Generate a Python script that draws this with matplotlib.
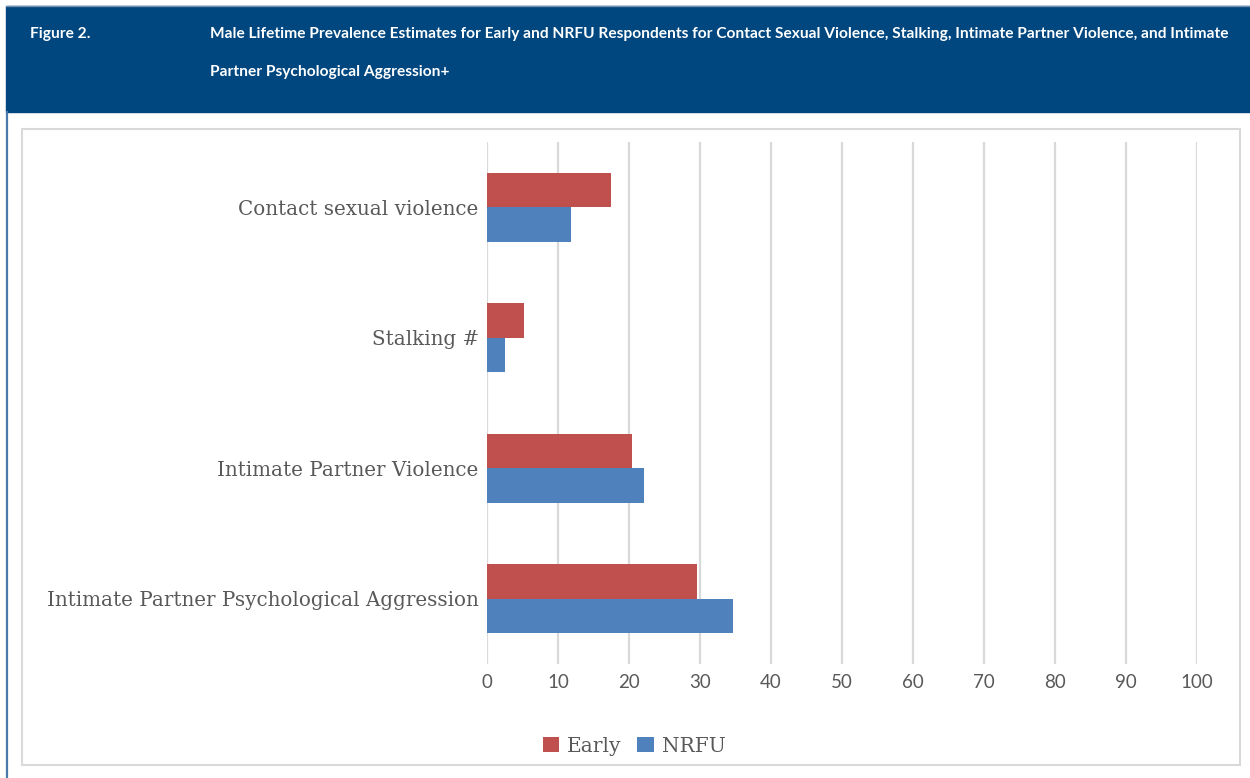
import matplotlib.pyplot as plt
from matplotlib.patches import Rectangle
from matplotlib.lines import Line2D
import numpy as np

categories = [
    "Contact sexual violence",
    "Stalking #",
    "Intimate Partner Violence",
    "Intimate Partner Psychological Aggression",
]
early = [17.5, 5.2, 20.4, 29.6]
nrfu = [11.8, 2.5, 22.1, 34.6]
x_ticks = list(range(0, 101, 10))

RED = "#C0504D"
BLUE = "#4F81BD"
GRID = "#D9D9D9"
HEADER = "#00467F"
TEXT = "#595959"

W, H = 1250, 778
fig = plt.figure(figsize=(W / 100, H / 100), dpi=100)


def fx(px):
    return px / W


def fy(py):
    return 1 - py / H


# header band and page borders
fig.patches.append(Rectangle((fx(6), fy(112)), fx(1250 - 6), 106 / H,
                             transform=fig.transFigure, color=HEADER, zorder=0))
fig.add_artist(Line2D([fx(6), fx(1250)], [fy(6), fy(6)], color="#6F8FAF", lw=1))
fig.add_artist(Line2D([fx(6.5), fx(6.5)], [fy(112), fy(778)], color="#4A7AAB", lw=1.6))
# chart box
fig.patches.append(Rectangle((fx(22), fy(765)), fx(1240 - 22), (765 - 129) / H,
                             transform=fig.transFigure, fill=False,
                             edgecolor=GRID, lw=1.5, zorder=0))

hfont = dict(family="Lato", weight="bold", color="white", fontsize=11.2)
fig.text(fx(30), fy(34), "Figure 2.", va="center", ha="left", **hfont)
fig.text(fx(210), fy(34),
         "Male Lifetime Prevalence Estimates for Early and NRFU Respondents for Contact Sexual Violence, Stalking, Intimate Partner Violence, and Intimate",
         va="center", ha="left", **hfont)
fig.text(fx(210), fy(72), "Partner Psychological Aggression+", va="center", ha="left", **hfont)

ax = fig.add_axes([fx(487), fy(664), fx(1197 - 487), (664 - 142) / H])

y = np.arange(len(categories))
h = 0.264
ax.barh(y - h / 2, early, height=h, color=RED, label="Early", zorder=3)
ax.barh(y + h / 2, nrfu, height=h, color=BLUE, label="NRFU", zorder=3)

ax.set_xlim(0, 100)
ax.set_ylim(3.5, -0.5)
ax.set_xticks(x_ticks)
ax.set_xticklabels([str(t) for t in x_ticks], family="Lato", fontsize=13.5, color=TEXT)
ax.set_yticks(y)
ax.set_yticklabels(categories, family="DejaVu Serif", fontsize=14.3, color=TEXT)
ax.tick_params(axis="y", length=0, pad=6)
ax.tick_params(axis="x", length=0, pad=7.5)
ax.grid(axis="x", color=GRID, lw=1.6, zorder=0)
for s in ax.spines.values():
    s.set_visible(False)

leg = fig.legend(loc="center", bbox_to_anchor=(fx(634), fy(746)), ncol=2, frameon=False,
                 prop=dict(family="DejaVu Serif", size=14.5), handlelength=0.8,
                 handleheight=0.8, handletextpad=0.4, columnspacing=0.8)
for t in leg.get_texts():
    t.set_color(TEXT)

fig.savefig("out.png", dpi=100)
